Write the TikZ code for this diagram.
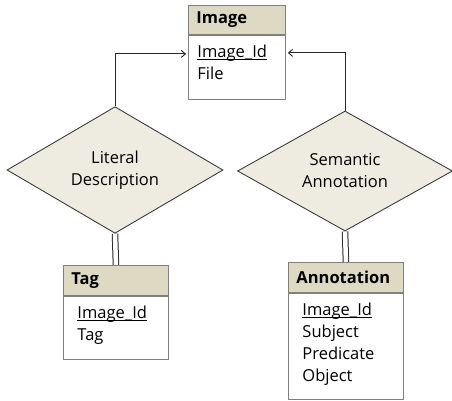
\documentclass[tikz,border=0pt]{standalone}
\usepackage{fontspec}
\setmainfont{Open Sans}
\usepackage{tikz}
\usetikzlibrary{shapes.geometric,arrows.meta,positioning}
\definecolor{headtan}{RGB}{221,217,195}
\definecolor{relfill}{RGB}{238,236,225}
\definecolor{boxgray}{RGB}{128,128,128}
\definecolor{linedark}{RGB}{40,40,40}
\newcommand{\keyattr}[1]{\underline{\raisebox{0pt}[\height][0pt]{#1}}}

\tikzset{
  enthead/.style={draw=boxgray,line width=0.9pt,fill=headtan,font=\fontsize{16.5}{22}\selectfont\bfseries,inner xsep=8pt,inner ysep=0pt,
    minimum height=29pt,anchor=north west,align=left},
  entbody/.style={draw=boxgray,line width=0.9pt,fill=white,inner xsep=9pt,inner ysep=10pt,anchor=north west,align=left},
  relation/.style={diamond,draw=linedark!90,line width=0.9pt,fill=relfill,inner sep=0pt,align=center},
  isa/.style={draw=linedark,line width=0.9pt,-{Straight Barb[length=4pt,width=7pt]},shorten >=2pt},
  ident/.style={draw=linedark,line width=1pt,double=white,double distance=4.5pt}
}

\begin{document}
\begin{tikzpicture}[x=1pt,y=-1pt,font=\fontsize{16.5}{22}\selectfont]
            \useasboundingbox (0,0) rectangle (452,400);

            % Entities
            \node[enthead,text width=81pt] (imgHead) at (188,5) {Image};
            \node[entbody,text width=79pt,text depth=32pt] (imgBody) at (imgHead.south west)
              {\keyattr{Image\_Id}\\File};

            \node[enthead,text width=89pt,minimum height=30pt] (tagHead) at (63,265) {Tag};
            \node[entbody,inner xsep=14pt,text width=77pt,text depth=31pt] (tagBody) at (tagHead.south west)
              {\keyattr{Image\_Id}\\Tag};

            \node[enthead,text width=99pt,minimum height=30pt] (annHead) at (288,262) {Annotation};
            \node[entbody,inner xsep=14pt,text width=87pt,text depth=74pt] (annBody) at (annHead.south west)
              {\keyattr{Image\_Id}\\Subject\\Predicate\\Object};

            % Relations
            \node[relation,minimum width=216pt,minimum height=78pt] (litDesc) at (115,170) {Literal\\Description};
            \node[relation,minimum width=215pt,minimum height=82pt] (semAnn) at (345,171) {Semantic\\Annotation};

            % Connections
            \draw[isa] (litDesc.north) |- ([yshift=-19pt]imgBody.north west);
            \draw[isa] (semAnn.north) |- ([yshift=-18pt]imgBody.north east);
            \draw[ident] (litDesc.south) -- (tagHead.north);
            \draw[ident] (semAnn.south) -- (annHead.north);
        \end{tikzpicture}
\end{document}
